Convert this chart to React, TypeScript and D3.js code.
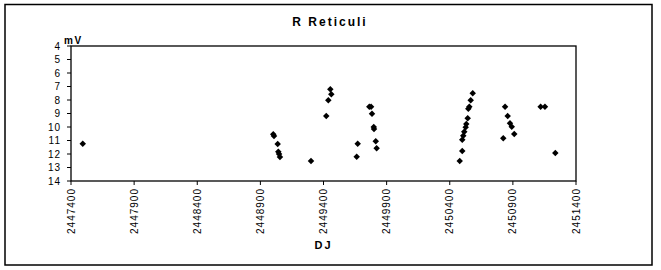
import React from "react";
import * as d3 from "d3";

const title = "R Reticuli";
const xTitle = "DJ";
const yTitle = "mV";
const jd = [
  2447493, 2449002, 2449008, 2449037, 2449042, 2449048, 2449055, 2449301,
  2449422, 2449438, 2449454, 2449462, 2449663, 2449671, 2449763, 2449777,
  2449784, 2449798, 2449800, 2449814, 2449821, 2450479, 2450499, 2450499,
  2450507, 2450515, 2450526, 2450531, 2450542, 2450547, 2450555, 2450566,
  2450582, 2450824, 2450838, 2450859, 2450877, 2450891, 2450911, 2451120,
  2451154, 2451236,
];
const mag = [
  11.24, 10.54, 10.67, 11.26, 11.83, 12.0, 12.22, 12.52,
  9.19, 8.02, 7.21, 7.58, 12.2, 11.24, 8.5, 8.5,
  9.01, 10.0, 10.15, 11.06, 11.58, 12.52, 11.78, 10.94,
  10.64, 10.35, 10.02, 9.78, 9.36, 8.64, 8.5, 8.02,
  7.5, 10.84, 8.5, 9.19, 9.73, 9.98, 10.52, 8.5,
  8.5, 11.93,
];
const xTicks = [2447400, 2447900, 2448400, 2448900, 2449400, 2449900, 2450400, 2450900, 2451400];
const yTicks = [4, 5, 6, 7, 8, 9, 10, 11, 12, 13, 14];

export default function App() {
  const left = 71, right = 576, top = 46, bottom = 181;
  const x = d3.scaleLinear().domain([2447400, 2451400]).range([left, right]);
  const y = d3.scaleLinear().domain([4, 14]).range([top, bottom]);
  const diamond = d3.symbol().type(d3.symbolSquare).size(21)();
  const font = "Arial, 'Liberation Sans', sans-serif";
  return (
    <svg width={661} height={270} style={{ position: "absolute", left: 0, top: 0 }} fontFamily={font}>
      <rect x={0} y={0} width={661} height={270} fill="#fff" />
      <rect x={5} y={4.5} width={647} height={260.5} fill="#fff" stroke="#000" strokeWidth={1.5} />
      <text x={330} y={26} textAnchor="middle" fontSize={12} fontWeight="bold" letterSpacing={2}>{title}</text>
      <rect x={left} y={top} width={right - left} height={bottom - top} fill="#fff" stroke="#000" strokeWidth={1.3} />
      {yTicks.map((t) => (
        <g key={"y" + t}>
          <line x1={left - 4} x2={left} y1={y(t)} y2={y(t)} stroke="#000" />
          <text x={61} y={y(t) + 3.5} textAnchor="end" fontSize={10} letterSpacing={1}>{t}</text>
        </g>
      ))}
      {xTicks.map((t) => (
        <g key={"x" + t}>
          <line x1={x(t)} x2={x(t)} y1={bottom} y2={bottom + 4} stroke="#000" />
          <text transform={`translate(${x(t) + 3.5},${bottom + 7}) rotate(-90)`} textAnchor="end" fontSize={10} letterSpacing={1}>{t}</text>
        </g>
      ))}
      <text x={64} y={44} fontSize={10} fontWeight="bold" letterSpacing={1.5}>{yTitle}</text>
      <text x={(left + right) / 2} y={249} textAnchor="middle" fontSize={11} fontWeight="bold" letterSpacing={2}>{xTitle}</text>
      {jd.map((d, i) => (
        <path key={i} d={diamond} transform={`translate(${x(d)},${y(mag[i])}) rotate(45)`} fill="#000" />
      ))}
    </svg>
  );
}
